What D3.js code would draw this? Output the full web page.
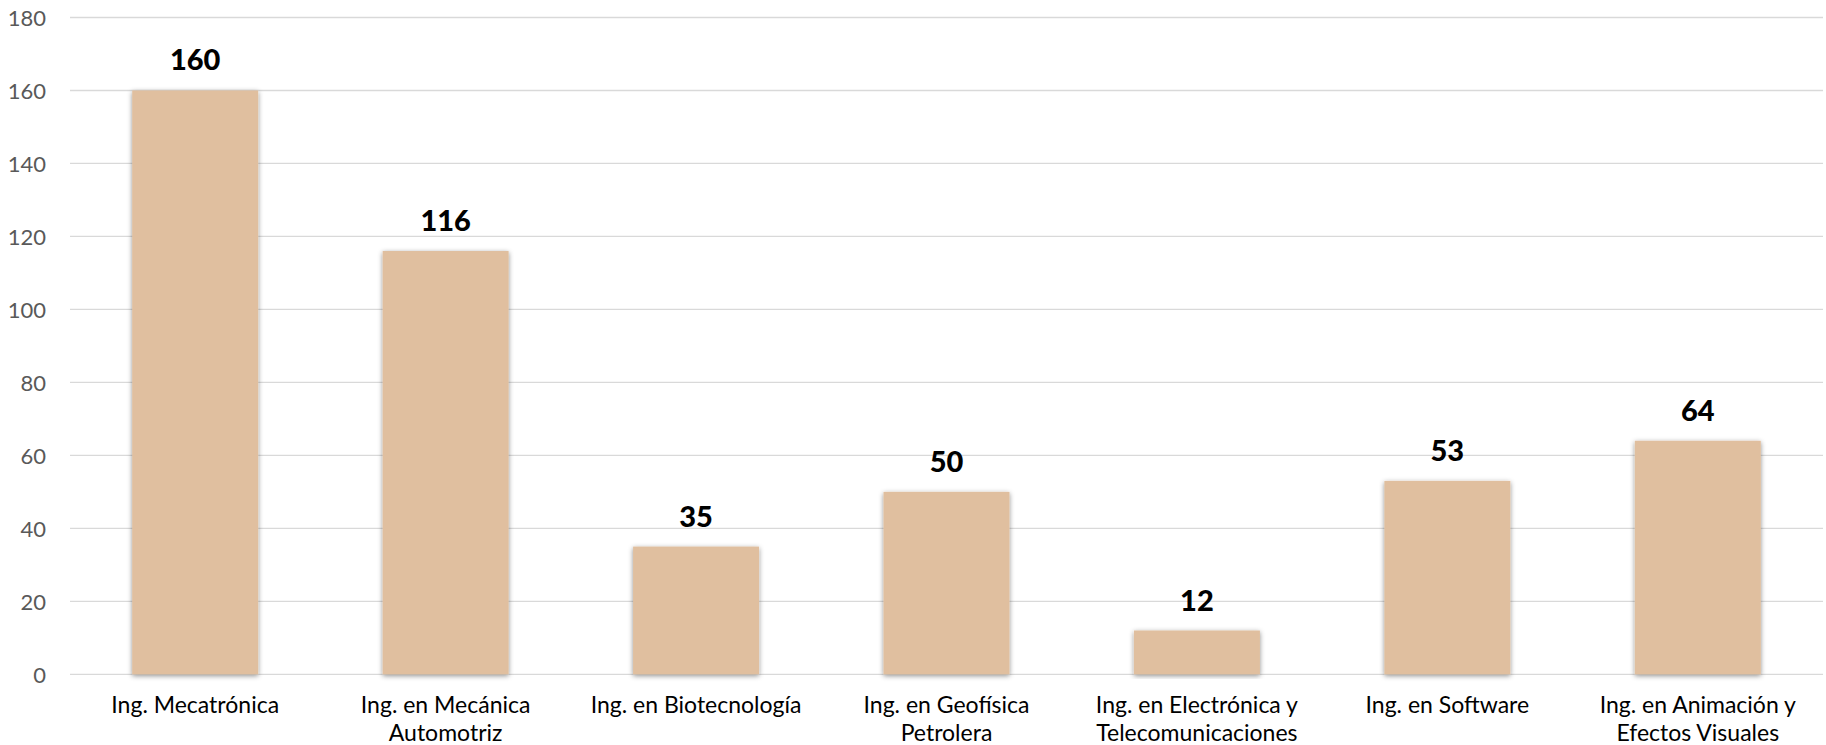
<!DOCTYPE html>
<html>
<head>
<meta charset="utf-8">
<script src="https://cdn.jsdelivr.net/npm/d3@7"></script>
<style>
  html, body { margin: 0; padding: 0; background: #ffffff; }
  svg { display: block; }
</style>
</head>
<body>
<svg id="chart" width="1826" height="745"></svg>
<script>
const categories = [
  ["Ing. Mecatrónica"],
  ["Ing. en Mecánica", "Automotriz"],
  ["Ing. en Biotecnología"],
  ["Ing. en Geofísica", "Petrolera"],
  ["Ing. en Electrónica y", "Telecomunicaciones"],
  ["Ing. en Software"],
  ["Ing. en Animación y", "Efectos Visuales"]
];
const values = [160, 116, 35, 50, 12, 53, 64];
const yTicks = [0, 20, 40, 60, 80, 100, 120, 140, 160, 180];

const W = 1826, H = 745;
const margin = { left: 70, right: 3, top: 17.5, bottom: 70.7 };
const svg = d3.select("#chart");

const defs = svg.append("defs");
const f = defs.append("filter").attr("id", "shadow")
  .attr("x", "-10%").attr("y", "-10%").attr("width", "120%").attr("height", "120%");
f.append("feDropShadow").attr("dx", 0).attr("dy", 1.5).attr("stdDeviation", 2.5)
  .attr("flood-color", "#000").attr("flood-opacity", 0.45);

const x = d3.scaleBand()
  .domain(d3.range(categories.length))
  .range([margin.left, W - margin.right])
  .paddingInner(0.497).paddingOuter(0.2485);

const y = d3.scaleLinear().domain([0, 180]).range([H - margin.bottom, margin.top]);

const font = "Lato, 'Open Sans', sans-serif";

// gridlines
svg.append("g").selectAll("line").data(yTicks).join("line")
  .attr("x1", margin.left).attr("x2", W - margin.right)
  .attr("y1", d => y(d)).attr("y2", d => y(d))
  .attr("stroke", "#d9d9d9").attr("stroke-width", 1.3);

// y axis labels
const yAxis = d3.axisLeft(y).tickValues(yTicks).tickSize(0).tickPadding(24);
const gy = svg.append("g").attr("transform", `translate(${margin.left},0)`).call(yAxis);
gy.select(".domain").remove();
gy.selectAll("text").attr("font-family", font).attr("font-size", 22)
  .attr("fill", "#595959").attr("dy", "0.36em");

// bars
svg.append("g").selectAll("rect").data(values).join("rect")
  .attr("x", (d, i) => x(i)).attr("width", x.bandwidth())
  .attr("y", d => y(d)).attr("height", d => y(0) - y(d))
  .attr("fill", "#e0bf9f").attr("filter", "url(#shadow)");

// data labels
svg.append("g").selectAll("text").data(values).join("text")
  .attr("x", (d, i) => x(i) + x.bandwidth() / 2)
  .attr("y", d => y(d) - 20)
  .attr("text-anchor", "middle")
  .attr("font-family", font).attr("font-weight", 900).attr("font-size", 29)
  .attr("fill", "#000")
  .text(d => d);

// category labels
const xl = svg.append("g").selectAll("text").data(categories).join("text")
  .attr("x", (d, i) => x(i) + x.bandwidth() / 2)
  .attr("y", 713)
  .attr("text-anchor", "middle")
  .attr("font-family", font).attr("font-size", 23)
  .attr("fill", "#000");
xl.selectAll("tspan").data(d => d).join("tspan")
  .attr("x", function() { return d3.select(this.parentNode).attr("x"); })
  .attr("dy", (d, i) => i === 0 ? 0 : 27.5)
  .text(d => d);
</script>
</body>
</html>
